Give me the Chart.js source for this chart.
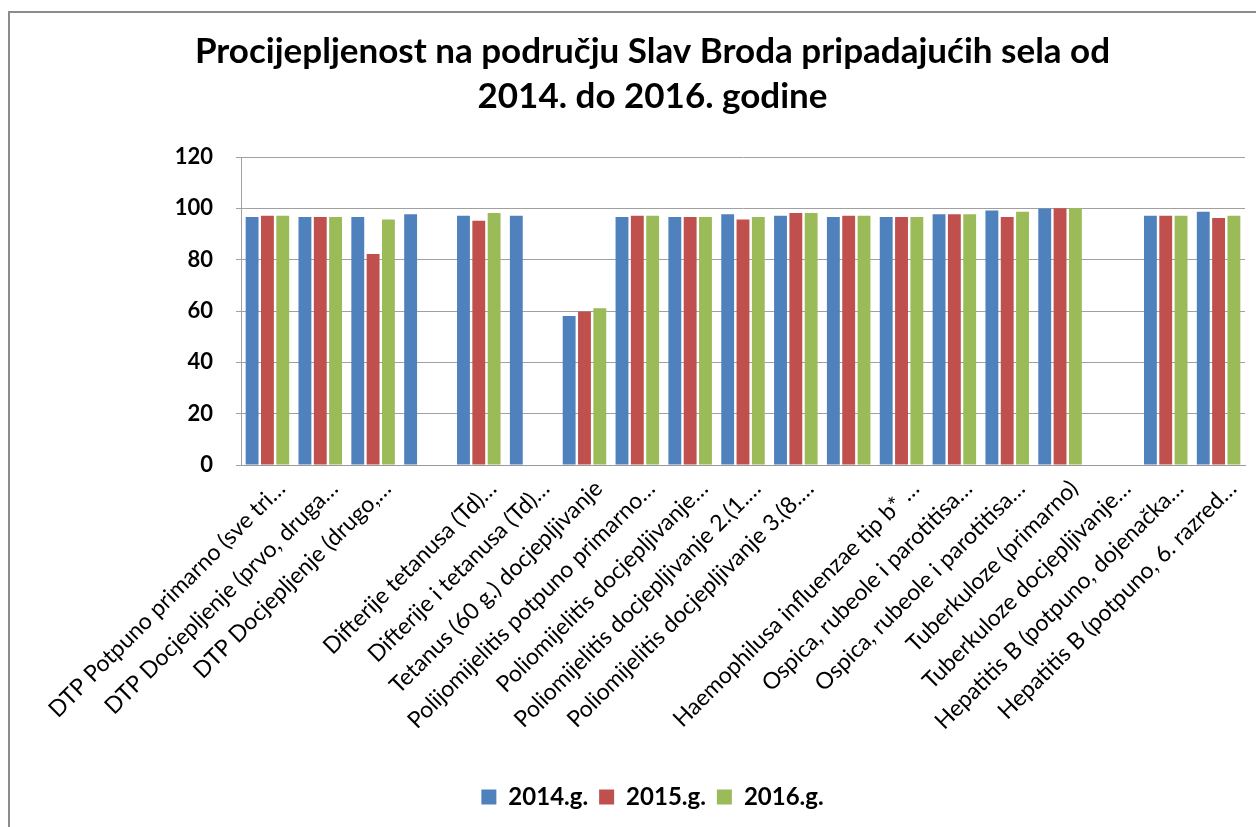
<!DOCTYPE html>
<html>
<head>
<meta charset="utf-8">
<script src="https://cdn.jsdelivr.net/npm/chart.js@4/dist/chart.umd.min.js"></script>
<style>
  html, body { margin: 0; padding: 0; background: #ffffff; }
  #wrap { width: 1256px; height: 827px; position: relative; }
  canvas { display: block; }
</style>
</head>
<body>
<div id="wrap"><canvas id="c" width="1256" height="827"></canvas></div>
<script>
const titleLines = ["Procijepljenost na području Slav Broda pripadajućih sela od", "2014. do 2016. godine"];
const categories = [
  "DTP Potpuno primarno (sve tri…",
  "DTP Docjepljenje (prvo, druga…",
  "DTP Docjepljenje (drugo,…",
  "",
  "Difterije tetanusa (Td)…",
  "Difterije i tetanusa (Td)…",
  "Tetanus (60 g.) docjepljivanje",
  "Polijomijelitis potpuno primarno…",
  "Poliomijelitis docjepljivanje…",
  "Poliomijelitis docjepljivanje 2.(1.…",
  "Poliomijelitis docjepljivanje 3.(8.…",
  "",
  "Haemophilusa influenzae tip b* …",
  "Ospica, rubeole i parotitisa…",
  "Ospica, rubeole i parotitisa…",
  "Tuberkuloze (primarno)",
  "Tuberkuloze docjepljivanje…",
  "Hepatitis B (potpuno, dojenačka…",
  "Hepatitis B (potpuno, 6. razred…"
];
const seriesNames = ["2014.g.", "2015.g.", "2016.g."];
const values2014 = [96.6, 96.6, 96.6, 97.7, 97.1, 97.1, 58.1, 96.6, 96.6, 97.7, 97.1, 96.6, 96.6, 97.7, 99.2, 99.9, null, 97.1, 98.7];
const values2015 = [97.1, 96.6, 82.2, null, 95.2, null, 59.8, 97.1, 96.6, 95.7, 98.2, 97.1, 96.6, 97.7, 96.6, 100, null, 97.1, 96.2];
const values2016 = [97.1, 96.6, 95.7, null, 98.2, null, 61.1, 97.1, 96.6, 96.6, 98.2, 97.1, 96.6, 97.7, 98.7, 100, null, 97.1, 97.1];
const yTicks = [0, 20, 40, 60, 80, 100, 120];
const colors = ["#4F81BD", "#C0504D", "#9BBB59"];

const FONT = "Lato, 'Open Sans', 'Liberation Sans', sans-serif";

const borderPlugin = {
  id: 'outerBorder',
  afterDraw(chart) {
    const ctx = chart.ctx;
    ctx.save();
    ctx.strokeStyle = '#8c8c8c';
    ctx.lineWidth = 2;
    ctx.beginPath();
    ctx.moveTo(9, 900);
    ctx.lineTo(9, 12);
    ctx.lineTo(1300, 12);
    ctx.stroke();
    ctx.restore();
  }
};

new Chart(document.getElementById('c'), {
  type: 'bar',
  data: {
    labels: categories,
    datasets: [
      { label: seriesNames[0], data: values2014, backgroundColor: colors[0] },
      { label: seriesNames[1], data: values2015, backgroundColor: colors[1] },
      { label: seriesNames[2], data: values2016, backgroundColor: colors[2] }
    ]
  },
  options: {
    responsive: false,
    animation: false,
    devicePixelRatio: 1,
    layout: { padding: { left: 60, right: 11, top: 8, bottom: 8 } },
    datasets: { bar: { categoryPercentage: 0.87, barPercentage: 0.84 } },
    plugins: {
      title: {
        display: true,
        text: titleLines,
        color: '#000000',
        font: { family: FONT, size: 35, weight: 'bold', lineHeight: 1.286 },
        padding: { top: 21, bottom: 38 }
      },
      legend: {
        position: 'bottom',
        labels: {
          color: '#000000',
          font: { family: FONT, size: 24, weight: 'bold' },
          boxWidth: 15,
          boxHeight: 15,
          padding: 11
        }
      },
      tooltip: { enabled: false }
    },
    scales: {
      x: {
        grid: { display: false, drawTicks: false },
        border: { display: true, color: '#9a9a9a', width: 1 },
        ticks: {
          color: '#000000',
          font: { family: FONT, size: 23 },
          minRotation: 45,
          maxRotation: 45,
          autoSkip: false,
          padding: 10,
          labelOffset: 14
        },
        afterFit(scale) { scale.height = 309; }
      },
      y: {
        min: 0,
        max: 120,
        afterBuildTicks(scale) { scale.ticks = yTicks.map(v => ({ value: v })); },
        grid: { color: '#a0a0a0', lineWidth: 1, tickLength: 5, drawTicks: true },
        border: { display: true, color: '#a0a0a0' },
        ticks: {
          color: '#000000',
          font: { family: FONT, size: 22, weight: 'bold' },
          padding: 23
        },
        afterFit(scale) { scale.width = 181; }
      }
    }
  },
  plugins: [borderPlugin]
});
</script>
</body>
</html>
